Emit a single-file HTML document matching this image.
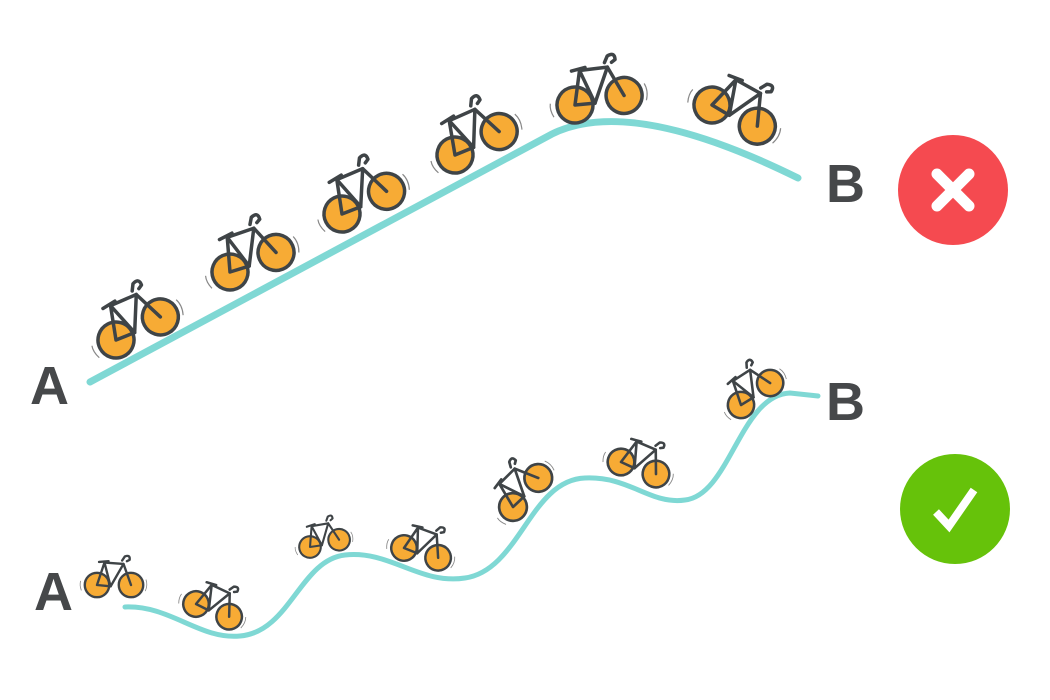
<!DOCTYPE html>
<html><head><style>
html,body{margin:0;padding:0;background:#fff;}
svg{display:block;}
text{font-family:"Liberation Sans",Arial,sans-serif;font-weight:bold;fill:#46484a;}
</style></head><body>
<svg width="1050" height="700" viewBox="0 0 1050 700" xmlns="http://www.w3.org/2000/svg">
<defs>
<g id="bike">
  <circle cx="0" cy="0" r="18" fill="#f7ab35" stroke="#3f4447" stroke-width="3.5"/>
  <circle cx="50" cy="0" r="18" fill="#f7ab35" stroke="#3f4447" stroke-width="3.5"/>
  <g fill="none" stroke="#3f4447" stroke-width="3.5" stroke-linejoin="round" stroke-linecap="round">
    <path d="M0,0 L20,2 L11,-33 Z"/>
    <path d="M11,-33 L39,-31 L20,2"/>
    <path d="M39,-31 L50,0"/>
    <path d="M37,-36 L41,-42 Q49,-45 48,-37 L44,-35"/>
    <path d="M3,-34 L17,-35"/>
  </g>
  <g fill="none" stroke="#888" stroke-width="1.2">
    <path d="M-24,-6 Q-26,0 -23,8"/>
    <path d="M72,-8 Q75,0 71,9"/>
  </g>
</g>
</defs>
<path d="M90,382 L552,134 Q630,95 798,178" fill="none" stroke="#7fd8d4" stroke-width="7" stroke-linecap="round"/>
<path d="M125,607 C170,605 200,640 240,636 C290,632 300,560 345,555 C390,550 420,585 465,578 C520,570 530,480 585,478 C630,476 650,505 685,500 C730,495 740,395 790,393 L818,396" fill="none" stroke="#7fd8d4" stroke-width="5" stroke-linecap="round"/>

<use href="#bike" transform="translate(116,340) rotate(-27.5)"/>
<use href="#bike" transform="translate(230,272) rotate(-23)"/>
<use href="#bike" transform="translate(342,214) rotate(-27)"/>
<use href="#bike" transform="translate(455,155) rotate(-28)"/>
<use href="#bike" transform="translate(575,105) rotate(-11)"/>
<use href="#bike" transform="translate(712,105) rotate(25)"/>

<use href="#bike" transform="translate(97,585) scale(0.68)"/>
<use href="#bike" transform="translate(196,604) rotate(21) scale(0.71)"/>
<use href="#bike" transform="translate(310,547) rotate(-14) scale(0.6)"/>
<use href="#bike" transform="translate(404,548) rotate(16) scale(0.71)"/>
<use href="#bike" transform="translate(513,507) rotate(-49) scale(0.77)"/>
<use href="#bike" transform="translate(621,462) rotate(19) scale(0.74)"/>
<use href="#bike" transform="translate(741,405) rotate(-37) scale(0.73)"/>

<text x="30" y="404" font-size="54">A</text>
<text x="826" y="202" font-size="54">B</text>
<text x="34" y="610" font-size="54">A</text>
<text x="826" y="420" font-size="54">B</text>

<circle cx="953" cy="190" r="55" fill="#f54a50"/>
<g stroke="#fff" stroke-width="11" stroke-linecap="round">
<line x1="937" y1="174" x2="969" y2="206"/><line x1="969" y1="174" x2="937" y2="206"/>
</g>
<circle cx="955" cy="509" r="55" fill="#66c20a"/>
<path d="M936,512 L949,526 L974,490" fill="none" stroke="#fff" stroke-width="8" stroke-linejoin="miter"/>
</svg>
</body></html>
